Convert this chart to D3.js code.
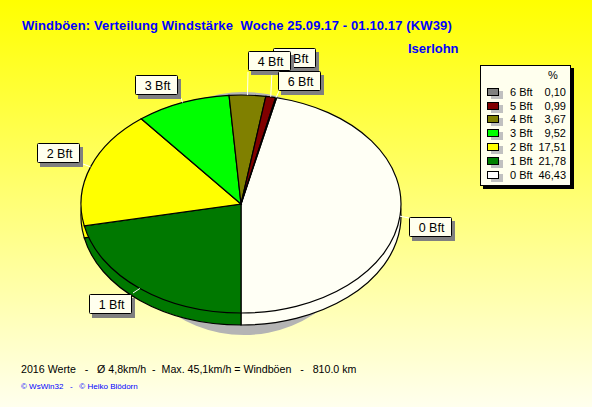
<!DOCTYPE html>
<html><head><meta charset="utf-8">
<script src="https://cdnjs.cloudflare.com/ajax/libs/d3/7.8.5/d3.min.js"></script>
<style>html,body{margin:0;padding:0;background:#fff}svg{display:block}text{font-family:"Liberation Sans",Arial,sans-serif}</style>
</head><body><svg id="c" width="592" height="407"></svg>
<script>
const categories=["0 Bft","1 Bft","2 Bft","3 Bft","4 Bft","5 Bft","6 Bft"];
const values=[46.43,21.78,17.51,9.52,3.67,0.99,0.10];
const valueLabels=["46,43","21,78","17,51","9,52","3,67","0,99","0,10"];
const colors=["#fffff5","#007800","#ffff00","#00ff00","#808000","#800000","#808080"];
const legendColors=["#ffffff","#008000","#ffff00","#00ff00","#808000","#800000","#808080"];
const title="Windböen: Verteilung Windstärke  Woche 25.09.17 - 01.10.17 (KW39)";
const place="Iserlohn";
const footer="2016 Werte   -   Ø 4,8km/h  -  Max. 45,1km/h = Windböen   -   810.0 km";
const credit="© WsWin32   -   © Heiko Blödorn";
const labelOrder=[0,1,2,3,5,4,6];
const labelBoxes={0:[409,217],1:[89,294],2:[37,143],3:[135,75],4:[248,51],5:[273,48],6:[278,71]};
const anchors={0:[409,218],1:[133,293],2:[83,164],3:[181,98],4:[248,72],5:[272,72],6:[279,91]};

const svg=d3.select("#c");
const W=592,H=407,cx=241,cy=204,rx=160,ry=109,depth=12;
const defs=svg.append("defs");
const g=defs.append("linearGradient").attr("id","bg").attr("x1",0).attr("y1",0).attr("x2",0).attr("y2",1);
g.append("stop").attr("offset","0%").attr("stop-color","#ffff00");
g.append("stop").attr("offset","100%").attr("stop-color","#ffffee");
svg.append("rect").attr("width",W).attr("height",H).attr("fill","url(#bg)");

svg.append("text").attr("x",22).attr("y",30).attr("fill","#0000ff").attr("font-size",13).attr("letter-spacing",0.13).attr("font-weight","bold").style("white-space","pre").text(title);
svg.append("text").attr("x",408).attr("y",53).attr("fill","#0000ff").attr("font-size",13).attr("font-weight","bold").text(place);

// shadow
svg.append("ellipse").attr("cx",244).attr("cy",213.5).attr("rx",125).attr("ry",121.5).attr("fill","#b4b4b4");

const start=12.85*Math.PI/180;
const pie=d3.pie().sort(null).value(d=>d).startAngle(start).endAngle(start+2*Math.PI);
const arcs=pie(values);
const arc=d3.arc().innerRadius(0).outerRadius(rx);
const yS=ry/rx;
const drawPie=(dy,cls)=>svg.append("g").attr("class",cls).attr("transform",`translate(${cx},${cy+dy}) scale(1,${yS})`)
  .selectAll("path").data(arcs).join("path").attr("d",arc).attr("fill",(d,i)=>colors[i])
  .attr("stroke","#000").attr("stroke-width",1.2).attr("vector-effect","non-scaling-stroke");
drawPie(depth,"side");
drawPie(0,"top");

// leaders
labelOrder.forEach(i=>{
  const a=arcs[i],m=(a.startAngle+a.endAngle)/2;
  const px=cx+rx*Math.sin(m),py=cy-ry*Math.cos(m);
  const [ax,ay]=anchors[i];
  svg.append("line").attr("x1",px).attr("y1",py).attr("x2",ax).attr("y2",ay).attr("stroke","#fff").attr("stroke-width",1);
});
// labels
const bw=43,bh=20;
labelOrder.forEach(i=>{
  const [bx,by]=labelBoxes[i];
  svg.append("rect").attr("x",bx+3).attr("y",by+4).attr("width",bw).attr("height",bh).attr("fill","#808080");
  svg.append("rect").attr("x",bx+.5).attr("y",by+.5).attr("width",bw-1).attr("height",bh-1).attr("rx",1).attr("fill","#ffffee").attr("stroke","#000");
  svg.append("text").attr("x",bx+bw/2+1).attr("y",by+15).attr("text-anchor","middle").attr("font-size",12.5).attr("fill","#000").text(categories[i]);
});

// legend
const lx=480,ly=65,lw=91,lh=121;
svg.append("rect").attr("x",lx+3).attr("y",ly+3).attr("width",lw).attr("height",lh).attr("fill","#000");
svg.append("rect").attr("x",lx+.5).attr("y",ly+.5).attr("width",lw-1).attr("height",lh-1).attr("fill","#ffffee").attr("stroke","#000");
svg.append("text").attr("x",553).attr("y",79).attr("text-anchor","middle").attr("font-size",11).text("%");
const order=d3.range(categories.length).reverse();
const rowY=d3.scalePoint().domain(order).range([91.7,175]);
order.forEach(i=>{
  const y=Math.round(rowY(i));
  svg.append("rect").attr("x",491).attr("y",y-1).attr("width",12).attr("height",8).attr("fill","#c0c0c0");
  svg.append("rect").attr("x",487.5).attr("y",y-3.5).attr("width",11).attr("height",7).attr("fill",legendColors[i]).attr("stroke","#000");
  svg.append("text").attr("x",510).attr("y",y+4).attr("font-size",11).text(categories[i]);
  svg.append("text").attr("x",566).attr("y",y+4).attr("text-anchor","end").attr("font-size",11).text(valueLabels[i]);
});

svg.append("text").attr("x",21).attr("y",373).attr("font-size",10.65).attr("fill","#000").style("white-space","pre").text(footer);
svg.append("text").attr("x",21).attr("y",389).attr("font-size",8).attr("fill","#0000ff").style("white-space","pre").text(credit);
</script></body></html>
